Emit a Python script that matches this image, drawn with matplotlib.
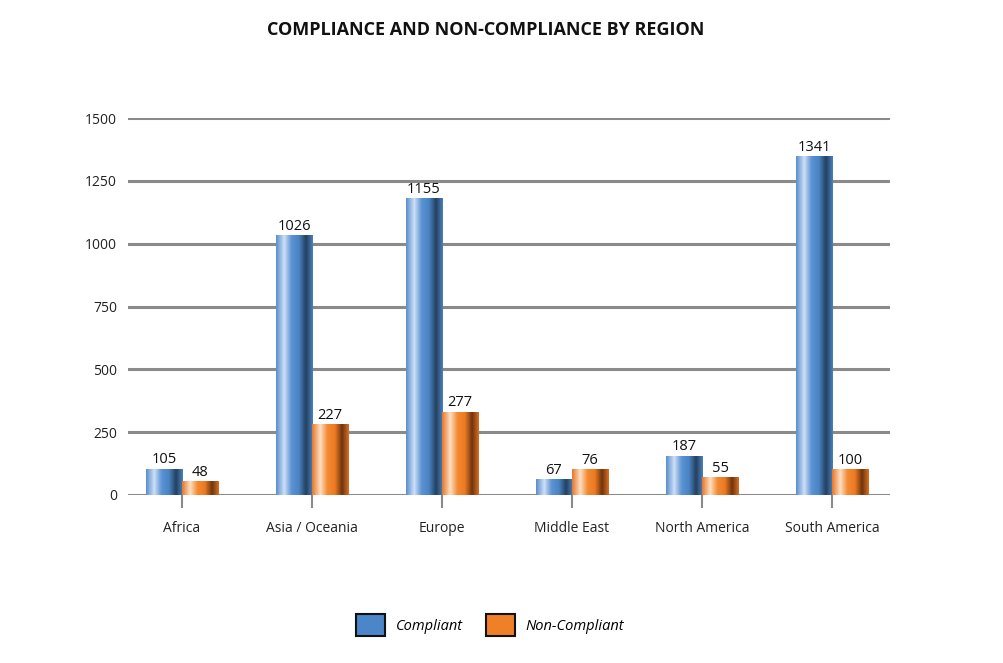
import numpy as np
import matplotlib
matplotlib.use('Agg')
import matplotlib.pyplot as plt
from matplotlib.colors import LinearSegmentedColormap
from matplotlib.patches import Patch

plt.rcParams['font.family'] = ['Open Sans', 'DejaVu Sans']

# data
regions = ['Africa', 'Asia / Oceania', 'Europe', 'Middle East', 'North America', 'South America']
compliant_labels = [105, 1026, 1155, 67, 187, 1341]
noncompliant_labels = [48, 227, 277, 76, 55, 100]
# bar heights as drawn in the source chart (they do not always match the printed numbers)
compliant_heights = [103, 1031, 1178, 60, 155, 1345]
noncompliant_heights = [52, 279, 330, 100, 68, 100]
yticks = [0, 250, 500, 750, 1000, 1250, 1500]

# gradient stops for the cylinder look
stops = [0, 0.22, 0.42, 0.62, 0.82, 1]
blue_cmap = LinearSegmentedColormap.from_list(
    'blue', list(zip(stops, ['#5a8fcf', '#cfe0f6', '#5b93d3', '#4a84c4', '#24405e', '#4a7fbc'])))
orange_cmap = LinearSegmentedColormap.from_list(
    'orange', list(zip(stops, ['#e8782a', '#fde0c4', '#f28a32', '#ee7a22', '#6e3510', '#d86c20'])))

fig = plt.figure(figsize=(10.04, 6.63), dpi=100)
ax = fig.add_axes([128 / 1004, 1 - 495 / 663, (890 - 128) / 1004, 377 / 663])

x = np.arange(len(regions))
width = 0.277
grad = np.linspace(0, 1, 64).reshape(1, -1)


def draw_bars(xs, heights, labels, cmap):
    for xc, h, lab in zip(xs, heights, labels):
        ax.imshow(grad, cmap=cmap, aspect='auto', interpolation='bilinear',
                  extent=(xc - width / 2, xc + width / 2, 0, h), zorder=3)
        ax.text(xc, h + 8, str(lab), ha='center', va='bottom', fontsize=10.5, color='#111111', zorder=4)


draw_bars(x - width / 2, compliant_heights, compliant_labels, blue_cmap)
draw_bars(x + width / 2, noncompliant_heights, noncompliant_labels, orange_cmap)

for yv in yticks:
    ax.axhline(yv, color='#8a8a8a', linewidth=2.2, zorder=1)

ax.set_xlim(-0.415, 5.446)
ax.set_ylim(0, 1500)
ax.set_yticks(yticks)
ax.set_yticklabels([str(v) for v in yticks], fontsize=10, color='#222222')
ax.set_xticks(x)
ax.set_xticklabels(regions, fontsize=10, color='#222222')
ax.tick_params(axis='y', length=0, pad=8)
ax.tick_params(axis='x', length=9, width=1.5, color='#8a8a8a', pad=10)
for s in ax.spines.values():
    s.set_visible(False)
ax.set_facecolor('none')

fig.text(486 / 1004, 1 - 30 / 663, 'COMPLIANCE AND NON-COMPLIANCE BY REGION',
         ha='center', va='center', fontsize=13, fontweight='bold', color='#111111')

handles = [Patch(facecolor='#4a86c8', edgecolor='#111111', linewidth=1.5, label='Compliant'),
           Patch(facecolor='#f08028', edgecolor='#111111', linewidth=1.5, label='Non-Compliant')]
fig.legend(handles=handles, loc='center', bbox_to_anchor=(490 / 1004, 1 - 625 / 663), ncol=2,
           frameon=False, prop={'style': 'italic', 'size': 10.5}, handlelength=2.0, handleheight=2.0,
           columnspacing=1.6, handletextpad=0.7)

fig.savefig('out.png', dpi=100)
